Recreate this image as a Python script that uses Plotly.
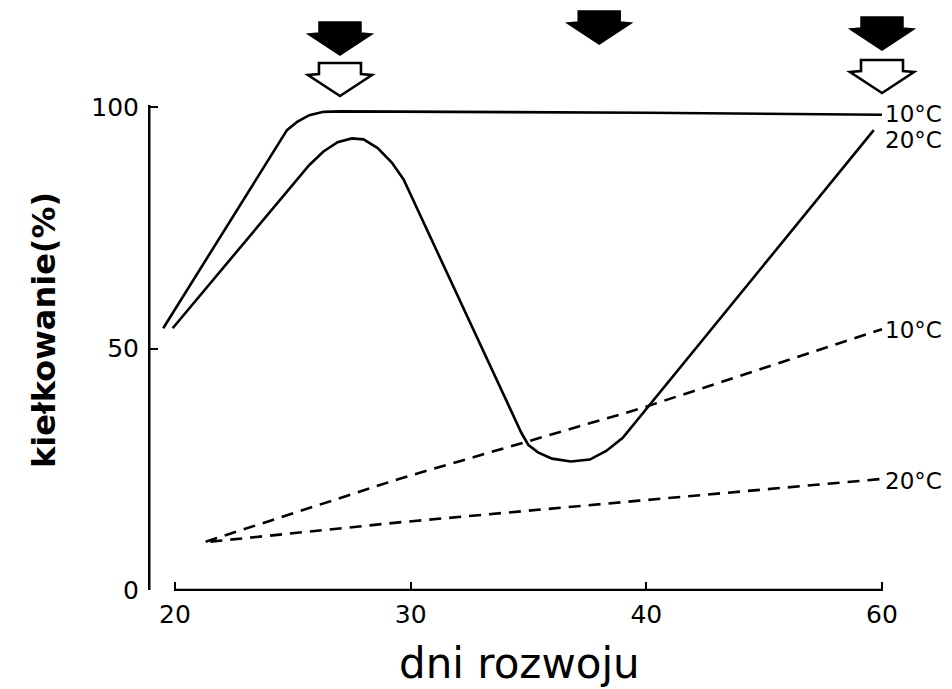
import plotly.graph_objects as go

# ---------------- data (days of development, germination %) ----------------
solid10_days = [19.5, 24.75, 25.2, 25.7, 26.3, 27.0, 40.0, 60.0]
solid10_vals = [54.2, 95.2, 97.0, 98.3, 99.0, 99.1, 98.8, 98.4]

solid20_days = [19.9, 25.7, 26.3, 26.9, 27.5, 28.0, 28.6, 29.2, 29.7,
                34.7, 35.0, 35.4, 36.0, 36.8, 37.6, 38.3, 39.0, 59.3]
solid20_vals = [54.2, 88.0, 90.8, 92.7, 93.5, 93.3, 91.5, 88.5, 85.0,
                32.5, 30.0, 28.5, 27.2, 26.6, 27.0, 28.8, 31.5, 95.2]

dashed10_days = [21.3, 29.5, 39.7, 60.0]
dashed10_vals = [10.0, 23.0, 37.5, 54.0]

dashed20_days = [21.5, 29.5, 39.7, 60.0]
dashed20_vals = [10.0, 14.0, 18.5, 23.0]

x_tick_days = [20, 30, 40, 60]
x_tick_labels = ["20", "30", "40", "60"]
y_tick_vals = [0, 50, 100]
y_tick_labels = ["0", "50", "100"]

black_arrow_days = [27, 38, 60]
white_arrow_days = [27, 60]

curve_labels = [
    (60, 98.6, "10°C"),
    (60, 93.2, "20°C"),
    (60, 53.8, "10°C"),
    (60, 22.6, "20°C"),
]

x_title = "dni rozwoju"
y_title = "kiełkowanie(%)"


# broken time axis: 40 -> 60 days drawn at half scale
def to_axis(d):
    return d if d <= 40 else 40 + (d - 40) * 0.5


def mapped(days):
    return [to_axis(d) for d in days]


# ---------------- layout geometry ----------------
OFF = 8                     # page body margin added by the browser
W, H = 952 - OFF, 689 - OFF
L, R, T, B = 148 - OFF, 7, 0, 98
plot_w = W - L - R
plot_h = H - T - B
px_per_x = 707 / 30.0              # pixels per axis unit
x_lo = 20 - 27 / px_per_x
x_hi = x_lo + plot_w / px_per_x
px_per_y = 4.83
y_lo = -1 / px_per_y
y_hi = y_lo + plot_h / px_per_y

BLACK = "#000000"
FONT = "DejaVu Sans"

fig = go.Figure()

line_w = 2.6
fig.add_trace(go.Scatter(x=mapped(solid10_days), y=solid10_vals, mode="lines",
                         line=dict(color=BLACK, width=line_w), showlegend=False))
fig.add_trace(go.Scatter(x=mapped(solid20_days), y=solid20_vals, mode="lines",
                         line=dict(color=BLACK, width=line_w), showlegend=False))
fig.add_trace(go.Scatter(x=mapped(dashed10_days), y=dashed10_vals, mode="lines",
                         line=dict(color=BLACK, width=line_w, dash="12px,8px"),
                         showlegend=False))
fig.add_trace(go.Scatter(x=mapped(dashed20_days), y=dashed20_vals, mode="lines",
                         line=dict(color=BLACK, width=line_w, dash="12px,8px"),
                         showlegend=False))

shapes = []
# axis lines
x_axis_pos = x_lo + 1.2 / px_per_x
shapes.append(dict(type="line", xref="x", yref="y", x0=x_axis_pos, x1=x_axis_pos,
                   y0=0, y1=100.4, line=dict(color=BLACK, width=2.6)))
shapes.append(dict(type="line", xref="x", yref="y", x0=to_axis(20), x1=to_axis(60),
                   y0=0, y1=0, line=dict(color=BLACK, width=2.6)))


def arrow_path(day, top_page_px):
    cx = to_axis(day)
    top_px = top_page_px - OFF
    ytop = (H - B - top_px) / px_per_y + y_lo  # convert px from top to data y
    pts = [(-21, 0), (21, 0), (21, 11), (32, 12), (0, 33), (-32, 12), (-21, 11)]
    coords = [(cx + dx / px_per_x, ytop - dy / px_per_y) for dx, dy in pts]
    return "M " + " L ".join(f"{x:.4f},{y:.4f}" for x, y in coords) + " Z"


black_tops = {27: 22, 38: 11, 60: 17}
white_tops = {27: 63, 60: 60}
for d in black_arrow_days:
    shapes.append(dict(type="path", xref="x", yref="y", path=arrow_path(d, black_tops[d]),
                       fillcolor=BLACK, line=dict(color=BLACK, width=1.5)))
for d in white_arrow_days:
    shapes.append(dict(type="path", xref="x", yref="y", path=arrow_path(d, white_tops[d]),
                       fillcolor="white", line=dict(color=BLACK, width=2.6)))

annotations = []
for d, v, txt in curve_labels:
    annotations.append(dict(x=to_axis(d), y=v, xref="x", yref="y", text=txt,
                            showarrow=False, xanchor="left", yanchor="middle",
                            xshift=1, font=dict(family=FONT, size=23, color=BLACK)))

annotations.append(dict(x=(519 - OFF - L) / plot_w, y=-(663 - OFF - (H - B)) / plot_h,
                        xref="paper", yref="paper", text=x_title, showarrow=False,
                        xanchor="center", yanchor="middle",
                        font=dict(family=FONT, size=42, color=BLACK)))
annotations.append(dict(x=(44 - OFF - L) / plot_w, y=1 - (330 - OFF - T) / plot_h,
                        xref="paper", yref="paper", text="<b>" + y_title + "</b>",
                        showarrow=False, textangle=-90, xanchor="center", yanchor="middle",
                        font=dict(family=FONT, size=32, color=BLACK)))

fig.update_layout(
    width=W, height=H,
    margin=dict(l=L, r=R, t=T, b=B),
    paper_bgcolor="white", plot_bgcolor="white",
    shapes=shapes, annotations=annotations,
    xaxis=dict(range=[x_lo, x_hi], showgrid=False, zeroline=False, showline=False,
               tickmode="array", tickvals=mapped(x_tick_days), ticktext=x_tick_labels,
               ticks="inside", ticklen=9, tickwidth=2.4, tickcolor=BLACK,
               ticklabelstandoff=6,
               tickfont=dict(family=FONT, size=25, color=BLACK)),
    yaxis=dict(range=[y_lo, y_hi], showgrid=False, zeroline=False, showline=False,
               tickmode="array", tickvals=y_tick_vals, ticktext=y_tick_labels,
               ticks="inside", ticklen=10, tickwidth=2.4, tickcolor=BLACK,
               ticklabelstandoff=8,
               tickfont=dict(family=FONT, size=25, color=BLACK)),
)

fig.write_html("out.html")
